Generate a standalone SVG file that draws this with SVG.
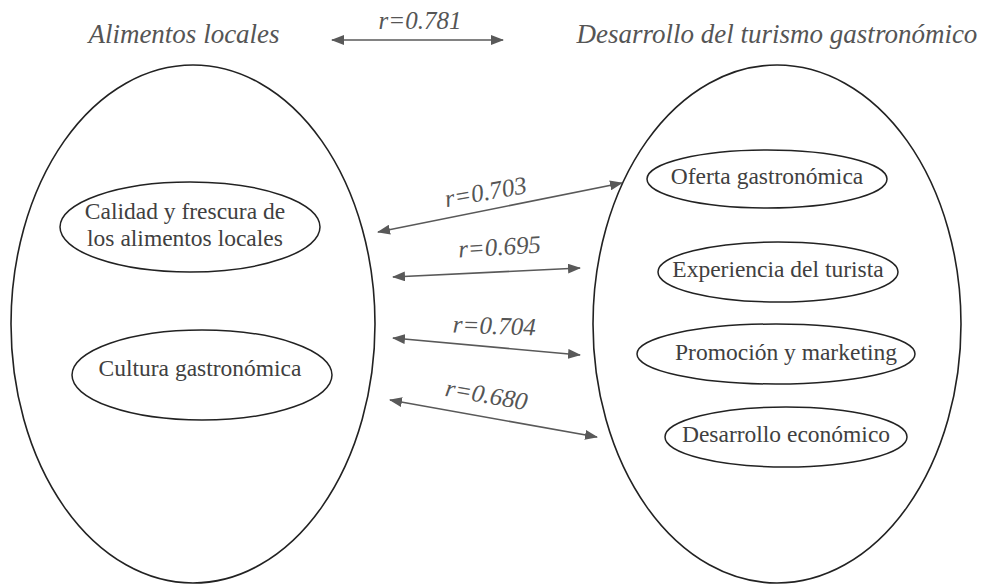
<svg xmlns="http://www.w3.org/2000/svg" width="986" height="584" viewBox="0 0 986 584">
<defs>
<marker id="ah" viewBox="0 0 13 10" refX="12" refY="5" markerWidth="13" markerHeight="10" markerUnits="userSpaceOnUse" orient="auto-start-reverse">
<path d="M0,0 L13,5 L0,10 Z" fill="#595959"/>
</marker>
</defs>
<style>
.big{fill:none;stroke:#222;stroke-width:1.6}
.sm{fill:#fff;stroke:#222;stroke-width:1.5}
.nt{font-family:'Liberation Serif','DejaVu Serif',serif;font-size:23.5px;fill:#404040;text-anchor:middle}
.tt{font-family:'Liberation Serif','DejaVu Serif',serif;font-style:italic;font-size:27px;fill:#555;text-anchor:middle}
.rl{font-family:'Liberation Serif','DejaVu Serif',serif;font-style:italic;font-size:25px;fill:#555;text-anchor:middle}
.ar{stroke:#595959;stroke-width:1.6;fill:none;marker-start:url(#ah);marker-end:url(#ah)}
</style>
<rect width="986" height="584" fill="#fff"/>
<g id="title-left"><text class="tt" x="184" y="43">Alimentos locales</text></g>
<g id="title-right"><text class="tt" x="777" y="43">Desarrollo del turismo gastronómico</text></g>
<g id="alimentos-locales"><ellipse class="big" cx="193" cy="324" rx="182" ry="259"/></g>
<g id="desarrollo-turismo"><ellipse class="big" cx="777" cy="324" rx="184" ry="259"/></g>
<g id="calidad">
<ellipse class="sm" cx="190" cy="227" rx="130" ry="45"/>
<text class="nt" x="185" y="219">Calidad y frescura de</text>
<text class="nt" x="185" y="246">los alimentos locales</text>
</g>
<g id="cultura">
<ellipse class="sm" cx="202" cy="375" rx="130" ry="45"/>
<text class="nt" x="200" y="376">Cultura gastronómica</text>
</g>
<g id="oferta">
<ellipse class="sm" cx="767" cy="179" rx="120" ry="29"/>
<text class="nt" x="767" y="184">Oferta gastronómica</text>
</g>
<g id="experiencia">
<ellipse class="sm" cx="778" cy="272" rx="120" ry="30"/>
<text class="nt" x="778" y="277">Experiencia del turista</text>
</g>
<g id="promocion">
<ellipse class="sm" cx="776" cy="354" rx="139" ry="30"/>
<text class="nt" x="786" y="360">Promoción y marketing</text>
</g>
<g id="desarrollo-economico">
<ellipse class="sm" cx="786" cy="437" rx="121" ry="30"/>
<text class="nt" x="786" y="442">Desarrollo económico</text>
</g>
<g id="connectors">
<line class="ar" x1="332" y1="40" x2="503" y2="40"/>
<line class="ar" x1="378" y1="232" x2="622" y2="183"/>
<line class="ar" x1="393" y1="277" x2="580" y2="268"/>
<line class="ar" x1="393" y1="338" x2="580" y2="355"/>
<line class="ar" x1="390" y1="400" x2="597" y2="437"/>
<text class="rl" x="420" y="29">r=0.781</text>
<text class="rl" transform="translate(487,200) rotate(-10)">r=0.703</text>
<text class="rl" transform="translate(500,255) rotate(-3.5)">r=0.695</text>
<text class="rl" transform="translate(494,334) rotate(2)">r=0.704</text>
<text class="rl" transform="translate(485,403) rotate(10)">r=0.680</text>
</g>
</svg>
